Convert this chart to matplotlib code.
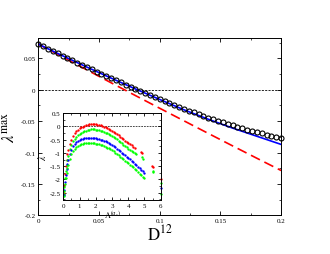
import matplotlib
matplotlib.use("Agg")
import matplotlib.pyplot as plt
from matplotlib.ticker import MultipleLocator, FuncFormatter

# main panel: largest exponent vs coupling D12
D_CIRCLES = [0.000, 0.004, 0.008, 0.012, 0.016, 0.020, 0.024, 0.028, 0.032, 0.036,
             0.040, 0.044, 0.048, 0.052, 0.056, 0.060, 0.064, 0.068, 0.072, 0.076,
             0.080, 0.084, 0.088, 0.092, 0.096, 0.100, 0.104, 0.108, 0.112, 0.116,
             0.120, 0.124, 0.128, 0.132, 0.136, 0.140, 0.144, 0.148, 0.152, 0.156,
             0.160, 0.164, 0.168, 0.172, 0.176, 0.180, 0.184, 0.188, 0.192, 0.196,
             0.200]
LAMBDA_CIRCLES = [0.0725, 0.0688, 0.0651, 0.0615, 0.0578, 0.0541, 0.0504, 0.0468, 0.0432, 0.0396,
                  0.0360, 0.0324, 0.0288, 0.0253, 0.0218, 0.0184, 0.0150, 0.0115, 0.0081, 0.0047,
                  0.0014, -0.0019, -0.0052, -0.0084, -0.0117, -0.0150, -0.0180, -0.0211, -0.0241, -0.0272,
                  -0.0302, -0.0332, -0.0360, -0.0387, -0.0415, -0.0442, -0.0469, -0.0496, -0.0521, -0.0544,
                  -0.0566, -0.0588, -0.0611, -0.0633, -0.0655, -0.0675, -0.0695, -0.0715, -0.0735, -0.0755,
                  -0.0775]

D_LINES = [0.0, 0.02, 0.04, 0.06, 0.08, 0.10, 0.12, 0.14, 0.16, 0.18, 0.20]
LAMBDA_BLUE = [0.0725, 0.054, 0.036, 0.0184, 0.0012, -0.0155, -0.032, -0.047, -0.061, -0.074, -0.087]
LAMBDA_RED = [0.0725, 0.052, 0.0315, 0.0110, -0.0093, -0.0295, -0.0495, -0.0695, -0.0893, -0.109, -0.1285]

# inset: exponent vs Lambda^(alpha_c)
LAM = [0.02, 0.05, 0.10, 0.15, 0.20, 0.25, 0.30, 0.40, 0.50, 0.60,
       0.70, 0.80, 0.90, 1.00, 1.10, 1.20, 1.30, 1.40, 1.50, 1.60,
       1.70, 1.80, 1.90, 2.00, 2.10, 2.20, 2.30, 2.40, 2.50, 2.60,
       2.70, 2.80, 2.90, 3.00, 3.10, 3.20, 3.30, 3.40, 3.50, 3.60,
       3.70, 3.80, 3.90, 4.00, 4.10, 4.20, 4.30, 4.40, 4.50, 4.60,
       4.70, 4.80, 4.90, 5.00]
RED = [-2.50, -2.20, -1.80, -1.50, -1.25, -1.05, -0.90, -0.66, -0.50, -0.37,
       -0.27, -0.19, -0.13, -0.08, -0.04, -0.01, 0.02, 0.04, 0.06, 0.07,
       0.08, 0.08, 0.08, 0.07, 0.06, 0.05, 0.03, 0.01, -0.01, -0.04,
       -0.07, -0.10, -0.13, -0.17, -0.21, -0.25, -0.29, -0.34, -0.39, -0.44,
       -0.49, -0.54, -0.59, -0.64, -0.68, -0.72, -0.77, -0.81]
GREEN1 = [-2.55, -2.30, -1.95, -1.67, -1.44, -1.25, -1.10, -0.86, -0.70, -0.57,
          -0.47, -0.39, -0.33, -0.28, -0.24, -0.21, -0.18, -0.16, -0.14, -0.13,
          -0.12, -0.12, -0.12, -0.13, -0.14, -0.15, -0.17, -0.19, -0.21, -0.24,
          -0.27, -0.30, -0.33, -0.37, -0.41, -0.45, -0.49, -0.54, -0.59, -0.64,
          -0.69, -0.74, -0.79, -0.84, -0.88, -0.92, -0.97, -1.01, -1.06]
BLUE = [-2.58, -2.38, -2.08, -1.82, -1.60, -1.42, -1.27, -1.04, -0.88, -0.76,
        -0.67, -0.60, -0.55, -0.51, -0.48, -0.46, -0.45, -0.44, -0.43, -0.43,
        -0.43, -0.43, -0.44, -0.45, -0.46, -0.48, -0.50, -0.52, -0.54, -0.57,
        -0.60, -0.63, -0.66, -0.70, -0.74, -0.79, -0.84, -0.89, -0.94, -0.99,
        -1.04, -1.09, -1.14, -1.19, -1.24, -1.29, -1.35, -1.40, -1.46, -1.52,
        -1.58, -1.63, -1.69, -1.75]
GREEN2 = [-2.62, -2.45, -2.18, -1.95, -1.75, -1.58, -1.44, -1.22, -1.06, -0.94,
          -0.85, -0.79, -0.74, -0.70, -0.67, -0.65, -0.64, -0.63, -0.63, -0.63,
          -0.63, -0.63, -0.64, -0.65, -0.66, -0.68, -0.70, -0.72, -0.74, -0.77,
          -0.80, -0.83, -0.86, -0.90, -0.94, -0.99, -1.04, -1.09, -1.14, -1.19,
          -1.24, -1.29, -1.34, -1.39, -1.44, -1.49, -1.55, -1.60, -1.66, -1.72,
          -1.78, -1.83, -1.89, -1.95]

# isolated points beyond the main branches
RED_EXTRA_X = [4.80, 4.85, 5.45, 5.50, 6.00]
RED_EXTRA_Y = [-0.97, -1.02, -1.48, -1.54, -1.99]
GREEN1_EXTRA_X = [4.85, 4.90, 5.50, 5.55, 6.00]
GREEN1_EXTRA_Y = [-1.16, -1.23, -1.67, -1.73, -2.15]
BLUE_EXTRA_X = [6.00]
BLUE_EXTRA_Y = [-2.32]
GREEN2_EXTRA_X = [6.00]
GREEN2_EXTRA_Y = [-2.56]

plt.rcParams.update({
    "font.family": "Liberation Serif",
    "mathtext.fontset": "stix",
    "axes.unicode_minus": False,
    "xtick.direction": "in",
    "ytick.direction": "in",
    "xtick.top": True,
    "ytick.right": True,
})

fmt = FuncFormatter(lambda v, p: f"{v:g}")


def style_axes(ax, size, major_len, minor_len):
    for s in ax.spines.values():
        s.set_linewidth(0.7)
    ax.tick_params(which="major", length=major_len, width=0.6, labelsize=size, pad=2)
    ax.tick_params(which="minor", length=minor_len, width=0.5)
    ax.xaxis.set_major_formatter(fmt)
    ax.yaxis.set_major_formatter(fmt)


fig = plt.figure(figsize=(3.3, 2.55), dpi=100)
ax = fig.add_axes([0.116, 0.151, 0.736, 0.698])

ax.axhline(0, color="black", linewidth=0.6, linestyle=(0, (2.5, 1.5)))
ax.plot(D_LINES, LAMBDA_RED, color="#ff0000", linewidth=1.2, linestyle=(0, (6, 3)))
ax.plot(D_LINES, LAMBDA_BLUE, color="#0000ff", linewidth=1.2)
ax.plot(D_CIRCLES, LAMBDA_CIRCLES, linestyle="none", marker="o", markersize=3.6,
        markerfacecolor="none", markeredgecolor="black", markeredgewidth=0.8, clip_on=False)

ax.set_xlim(0, 0.2)
ax.set_ylim(-0.2, 0.083)
ax.xaxis.set_major_locator(MultipleLocator(0.05))
ax.xaxis.set_minor_locator(MultipleLocator(0.025))
ax.yaxis.set_major_locator(MultipleLocator(0.05))
ax.yaxis.set_minor_locator(MultipleLocator(0.025))
style_axes(ax, 5, 3, 1.6)

ax.set_xlabel(r"$\mathrm{D}^{12}$", fontsize=12, labelpad=0)
ax.set_ylabel(r"$\lambda^{\mathrm{max}}$", fontsize=12, labelpad=2)

# inset
ins = fig.add_axes([0.192, 0.212, 0.295, 0.341])
ins.axhline(0, color="black", linewidth=0.5, linestyle=(0, (2.5, 1.5)))
ms = 1.7
ins.plot(LAM[:len(RED)], RED, linestyle="none", marker="o", markersize=ms,
         color="#ff0000", markeredgewidth=0)
ins.plot(LAM[:len(GREEN1)], GREEN1, linestyle="none", marker="o", markersize=ms,
         color="#00ff00", markeredgewidth=0)
ins.plot(LAM, BLUE, linestyle="none", marker="o", markersize=ms,
         color="#0000ff", markeredgewidth=0)
ins.plot(LAM, GREEN2, linestyle="none", marker="o", markersize=ms,
         color="#00ff00", markeredgewidth=0)
ins.plot(RED_EXTRA_X, RED_EXTRA_Y, linestyle="none", marker="o", markersize=ms,
         color="#ff0000", markeredgewidth=0, clip_on=False)
ins.plot(GREEN1_EXTRA_X, GREEN1_EXTRA_Y, linestyle="none", marker="o", markersize=ms,
         color="#00ff00", markeredgewidth=0, clip_on=False)
ins.plot(BLUE_EXTRA_X, BLUE_EXTRA_Y, linestyle="none", marker="o", markersize=ms,
         color="#0000ff", markeredgewidth=0, clip_on=False)
ins.plot(GREEN2_EXTRA_X, GREEN2_EXTRA_Y, linestyle="none", marker="o", markersize=ms,
         color="#00ff00", markeredgewidth=0, clip_on=False)

ins.set_xlim(0, 6)
ins.set_ylim(-2.77, 0.5)
ins.xaxis.set_major_locator(MultipleLocator(1))
ins.xaxis.set_minor_locator(MultipleLocator(0.5))
ins.yaxis.set_major_locator(MultipleLocator(0.5))
ins.yaxis.set_minor_locator(MultipleLocator(0.25))
style_axes(ins, 5, 2.2, 1.2)
ins.set_xlabel(r"$\Lambda^{(\alpha_c)}$", fontsize=6, labelpad=0)
ins.set_ylabel(r"$\lambda$", fontsize=7, labelpad=1)

fig.savefig("out.png", dpi=100)
